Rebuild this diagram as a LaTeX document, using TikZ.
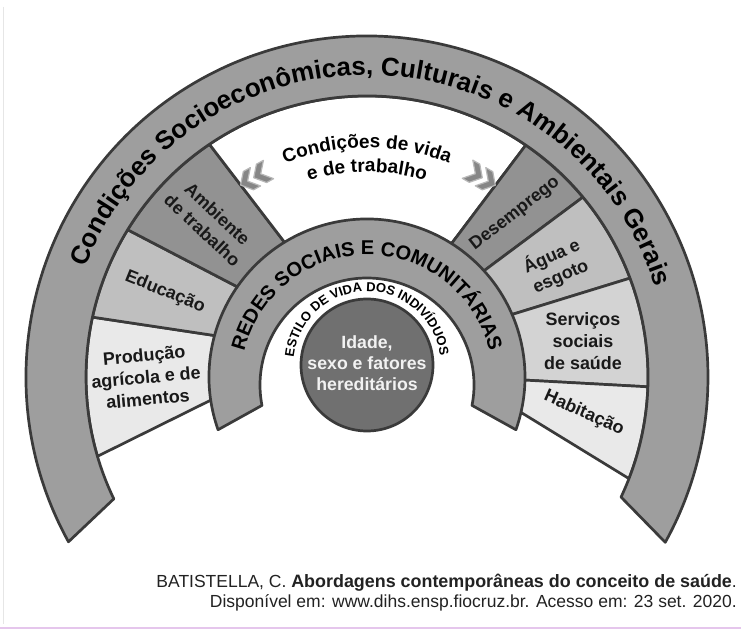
\documentclass[tikz,border=0pt]{standalone}
\usepackage{fontspec}
\setmainfont{Liberation Sans}
\usetikzlibrary{calc,decorations.text}
\definecolor{edgecol}{HTML}{3A3A3A}
\definecolor{bandcol}{HTML}{9E9E9E}
\definecolor{darkseg}{HTML}{929292}
\definecolor{midseg}{HTML}{BFBFBF}
\definecolor{lightseg}{HTML}{D3D3D3}
\definecolor{palseg}{HTML}{E9E9E9}
\definecolor{corecol}{HTML}{707070}
\definecolor{chevfill}{HTML}{868686}
\definecolor{chevedge}{HTML}{B8B8B8}
\definecolor{citecol}{HTML}{222222}
\definecolor{framegray}{HTML}{E6E6E6}
\definecolor{framepink}{HTML}{E5C6EC}
\newcommand\outerfont{\bfseries\fontsize{26}{30}\selectfont}
\newcommand\redesfont{\bfseries\fontsize{20}{24}\selectfont}
\newcommand\estilofont{\bfseries\fontsize{13}{15}\selectfont}
\newcommand\vidafont{\bfseries\fontsize{19}{22}\selectfont}
\newcommand\labelfont{\bfseries\fontsize{17.9}{22}\selectfont}
\newcommand\corefont{\bfseries\fontsize{17.7}{21}\selectfont}
\newcommand\citefont{\fontsize{17.5}{21}\selectfont}
\newcommand\citebold{\bfseries\fontsize{17.9}{21}\selectfont}
\newcommand\mysegment[5]{%
  \filldraw[segline, fill=#5] ($(C)+(#1:156)$) -- ($(C)+(#2:281)$)
    arc[start angle=#2, end angle=#4, radius=281]
    -- ($(C)+(#3:156)$) arc[start angle=#3, end angle=#1, radius=156] -- cycle;}
\begin{document}
\begin{tikzpicture}[x=1pt,y=1pt,
  segline/.style={draw=edgecol, line width=2.7pt, line join=round},
  bandstyle/.style={fill=bandcol, draw=edgecol, line width=2.7pt, line join=round},
  chevron/.style={fill=chevfill, draw=chevedge, line width=1.2pt, line join=round},
  label/.style={font=\labelfont, align=center, inner sep=0pt, text=black!90},
]
\useasboundingbox (0,0) rectangle (741,629);
\fill[white] (0,0) rectangle (741,629);
\draw[framegray, line width=1pt] (3,622) -- (3,5);
\draw[framepink, line width=1.5pt] (0,1) -- (741,1);

\coordinate (C) at (367,252);
\coordinate (Ci) at (367,264);
\coordinate (Cb) at (367,244);
\coordinate (Ct) at (367,248);

% segments (inner angle, outer angle) pairs
\mysegment{188.2}{196.4}{164.7}{167.7}{palseg}
\mysegment{164.7}{167.7}{145.1}{148.4}{midseg}
\mysegment{145.1}{148.4}{121.4}{124.1}{darkseg}
\mysegment{121.4}{124.1}{57.7}{55.6}{white}
\mysegment{57.7}{55.6}{42.3}{39.8}{darkseg}
\mysegment{42.3}{39.8}{23.4}{20.6}{midseg}
\mysegment{23.4}{20.6}{-1.1}{-2.0}{lightseg}
\mysegment{-1.1}{-2.0}{-12.7}{-21.2}{palseg}

% outer band
\filldraw[bandstyle] ($(C)+(208.9:341)$) arc[start angle=208.9, end angle=-29, radius=341]
  -- ($(C)+(-25.3:281)$) arc[start angle=-25.3, end angle=205.7, radius=281] -- cycle;

% inner band
\filldraw[bandstyle] ($(C)+(199.5:158)$) arc[start angle=199.5, end angle=-19.5, radius=158]
  -- ($(Cb)+(-11:107)$) arc[start angle=-11, end angle=191, radius=107] -- cycle;

% core circle
\node[circle, minimum size=132pt, inner sep=0pt, fill=corecol, draw=edgecol, line width=2.7pt] (core) at (Ci) {};
\node[font=\corefont, align=center, text=white!95!black, inner sep=0pt] (coretext) at (367,266)
  {Idade,\\sexo e fatores\\hereditários};

% curved texts
\path[decorate, decoration={text along path, text align=center,
  text={|\outerfont|Condições Socioeconômicas, Culturais e Ambientais Gerais}}]
  ($(C)+(200:302)$) arc[start angle=200, end angle=-24, radius=302];
\path[decorate, decoration={text along path, text align=center,
  text={|\redesfont|REDES SOCIAIS E COMUNITÁRIAS}}]
  ($(Ct)+(200:126)$) arc[start angle=200, end angle=-20, radius=126];
\path[decorate, decoration={text along path, text align=center,
  text={|\estilofont|ESTILO DE VIDA DOS INDIVÍDUOS}}]
  ($(Ci)+(190:73.5)$) arc[start angle=190, end angle=-9, radius=73.5];
\path[decorate, decoration={text along path, text align=center,
  text={|\vidafont|Condições de vida}}]
  ($(C)+(150:229)$) arc[start angle=150, end angle=30, radius=229];
\path[decorate, decoration={text along path, text align=center,
  text={|\vidafont|e de trabalho}}]
  ($(C)+(150:205)$) arc[start angle=150, end angle=30, radius=205];

% chevrons
\begin{scope}[shift={(255,452)}, rotate=209]
  \foreach \s in {-7.5,7.5} {
    \filldraw[chevron, xshift=\s] (-8,10.5) -- (0,10.5) -- (9,0) -- (0,-10.5) -- (-8,-10.5) -- (1,0) -- cycle;}
\end{scope}
\begin{scope}[shift={(481,452)}, rotate=-30]
  \foreach \s in {-7.5,7.5} {
    \filldraw[chevron, xshift=\s] (-8,10.5) -- (0,10.5) -- (9,0) -- (0,-10.5) -- (-8,-10.5) -- (1,0) -- cycle;}
\end{scope}

% segment labels
\node[label, rotate=5] (prod) at (146,252) {Produção\\agrícola e de\\alimentos};
\node[label, rotate=-22] (edu) at (165,337) {Educação};
\node[label, rotate=-43] (amb) at (210,407) {Ambiente\\de trabalho};
\node[label, rotate=38] (desemp) at (515,415) {Desemprego};
\node[label, rotate=24] (agua) at (556,363) {Água e\\esgoto};
\node[label] (serv) at (583,288) {Serviços\\sociais\\de saúde};
\node[label, rotate=-24] (hab) at (584,216) {Habitação};

% citation
\node[anchor=base east, font=\citefont, text=citecol, inner sep=0pt] (cite1) at (737,42)
  {BATISTELLA, C. {\citebold Abordagens contemporâneas do conceito de saúde}.};
\node[anchor=base east, font=\citefont, text=citecol, inner sep=0pt] (cite2) at (737,22)
  {Disponível em: www.dihs.ensp.fiocruz.br. Acesso em: 23 set. 2020.};
\end{tikzpicture}
\end{document}
